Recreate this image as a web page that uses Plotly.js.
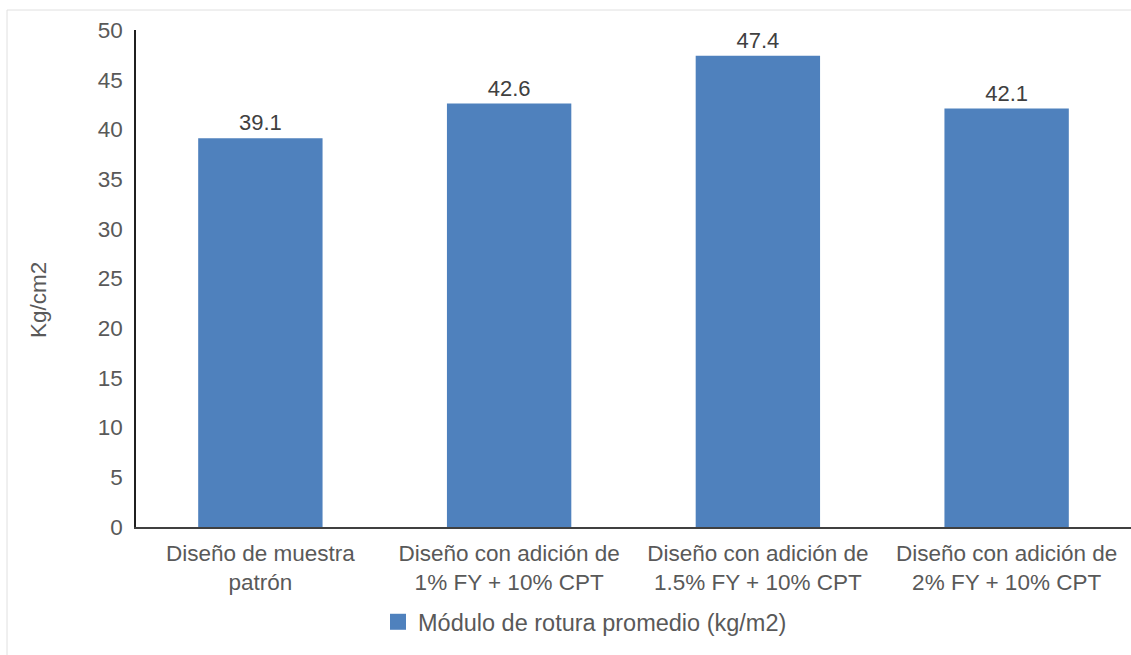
<!DOCTYPE html>
<html><head><meta charset="utf-8">
<script src="https://cdn.plot.ly/plotly-3.0.1.min.js"></script>
<style>html,body{margin:0;padding:0;background:#fff;overflow:hidden}</style>
</head><body>
<div id="chart" style="width:1131px;height:655px"></div>
<script>
const categories = [
  "Diseño de muestra<br>patrón",
  "Diseño con adición de<br>1% FY + 10% CPT",
  "Diseño con adición de<br>1.5% FY + 10% CPT",
  "Diseño con adición de<br>2% FY + 10% CPT"
];
const values = [39.1, 42.6, 47.4, 42.1];
const seriesName = "Módulo de rotura promedio (kg/m2)";
const yTicks = [0, 5, 10, 15, 20, 25, 30, 35, 40, 45, 50];
const yTitle = "Kg/cm2";

const FONT = "Liberation Sans, Arial, sans-serif";
const BAR = '#4f81bd';
const W = 1131, H = 655, ML = 136, MR = 0, MT = 30, MB = 128;
const pw = W - ML - MR, ph = H - MT - MB;
const px = v => (v - ML) / pw;
const py = v => (H - MB - v) / ph;

Plotly.newPlot('chart', [{
  type: 'bar',
  x: categories,
  y: values,
  name: seriesName,
  showlegend: false,
  marker: {color: BAR},
  text: values.map(v => v.toFixed(1)),
  textposition: 'outside',
  cliponaxis: false,
  textfont: {family: FONT, size: 22, color: '#404040'},
  hoverinfo: 'x+y'
}, {
  // legend entry (square swatch) for the bar series
  type: 'scatter', mode: 'markers',
  x: [null], y: [null],
  name: seriesName,
  marker: {symbol: 'square', size: 16, color: BAR},
  hoverinfo: 'skip'
}], {
  width: W, height: H,
  margin: {l: ML, r: MR, t: MT, b: MB},
  paper_bgcolor: '#fff', plot_bgcolor: '#fff',
  bargap: 0.5,
  showlegend: true,
  legend: {orientation: 'h', x: px(378), xanchor: 'left', y: py(622), yanchor: 'middle',
           itemsizing: 'trace',
           font: {family: FONT, size: 23.5, color: '#595959'}},
  xaxis: {showline: true, linecolor: '#404040', linewidth: 1.5, showgrid: false, ticks: '',
          ticklabelstandoff: 5,
          tickfont: {family: FONT, size: 22.5, color: '#595959'}, fixedrange: true},
  yaxis: {range: [0, 50], tickvals: yTicks, showline: true, linecolor: '#202020', linewidth: 1.5,
          showgrid: false, zeroline: false, ticks: '', ticklabelstandoff: 7,
          tickfont: {family: FONT, size: 22.5, color: '#595959'}},
  annotations: [{text: yTitle, textangle: -90, xref: 'paper', yref: 'paper',
                 x: px(38), y: py(300), xanchor: 'center', yanchor: 'middle', showarrow: false,
                 font: {family: FONT, size: 22.5, color: '#595959'}}],
  shapes: [{type: 'rect', xref: 'paper', yref: 'paper', x0: px(7), x1: px(1145), y0: py(665), y1: py(10),
            line: {color: '#e0e0e0', width: 1}, fillcolor: 'rgba(0,0,0,0)', layer: 'below'}]
}, {displayModeBar: false});
</script>
</body></html>
